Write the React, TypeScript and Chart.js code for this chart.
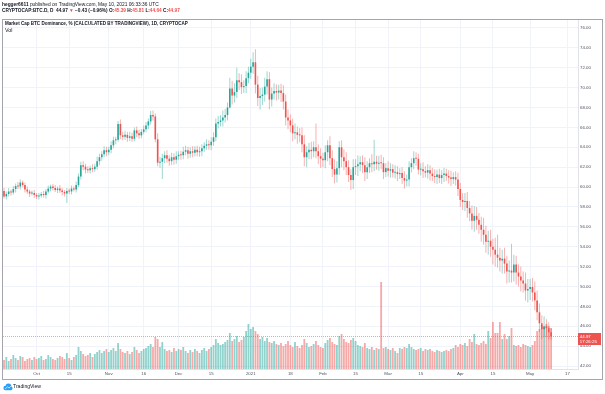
import React, { useEffect, useRef } from 'react';
import { Chart, registerables } from 'chart.js';

Chart.register(...registerables);

// ---- Data (daily candles, CRYPTOCAP:BTC.D, day 0 = 2020-09-17) ----
const startDate = '2020-09-17';
const firstOpen = 59.6;
const closes = [
  59.05, 59.30, 59.55, 59.45, 59.80, 60.10, 60.05, 60.45, 60.20, 59.75, 59.55, 59.35, 59.40, 59.20, 59.05,
  59.15, 59.30, 59.20, 59.55, 59.85, 60.05, 59.90, 59.70, 59.85, 59.65, 59.50, 59.35, 59.60, 59.55, 59.85, 59.75, 60.20,
  61.05, 62.20, 62.05, 61.75, 61.70, 61.90, 61.80, 62.05, 62.60, 63.00, 63.30, 63.70, 63.50, 63.75, 64.20, 64.70, 64.75,
  66.35, 65.20, 65.05, 65.25, 64.95, 65.10, 64.85, 65.70, 65.40, 65.20, 65.55, 65.80, 66.20, 66.60, 67.25, 67.10,
  64.80, 62.45, 62.55, 62.90, 63.20, 62.85, 62.60, 63.00, 62.75, 63.10, 63.25, 63.20, 63.55, 63.70, 63.35, 63.60, 63.45, 63.75, 63.50, 63.60, 63.90, 64.15, 64.30, 64.20, 64.55, 65.00,
  66.40, 66.55, 66.70, 67.00, 67.25, 68.00, 69.90, 69.20, 69.55, 70.75, 70.55, 70.05, 70.15, 70.95, 71.50, 72.10, 72.55, 70.30, 68.95, 69.15, 69.30, 70.10, 70.85, 68.80, 69.40, 69.65, 69.50, 69.70, 69.45, 68.60,
  67.00, 66.70, 66.20, 65.40, 65.50, 65.25, 65.20, 64.30, 63.00, 63.50, 63.75, 63.60, 64.00, 63.60, 63.10, 62.85, 62.70, 63.50, 64.20, 62.90, 61.80, 61.25, 61.90, 64.00, 63.00, 62.60, 62.00, 61.20, 60.70, 62.00, 62.10, 62.30, 62.50, 62.20, 61.50, 62.00, 62.40, 62.30, 62.55, 62.35, 62.45,
  62.40, 61.50, 61.90, 61.65, 61.80, 61.45, 61.50, 61.30, 61.40, 60.90, 60.65, 60.75, 62.00, 62.40, 62.90, 62.85, 61.75, 61.80, 61.60, 61.45, 61.70, 61.35, 61.10, 61.00, 61.25, 60.90, 61.20, 61.35, 61.10, 60.95, 60.80, 61.00, 60.75, 59.80,
  58.70, 58.50, 58.60, 57.90, 57.35, 56.60, 57.10, 56.70, 56.20, 55.70, 55.20, 54.50, 54.60, 54.00, 53.70, 53.20, 52.90, 52.60, 52.80, 52.30, 51.50, 51.60, 51.40, 52.20, 51.40, 51.00, 50.60, 50.30, 49.60, 49.75, 49.95, 49.40, 48.60, 47.40, 46.30, 45.70, 46.00, 45.80, 45.39, 44.97,
];
const upWick = [
  .3, .25, .35, .2, .3, .25, .4, .3, .2, .25, .3, .2, .25, .3, .2,
  .25, .2, .3, .25, .3, .2, .25, .3, .2, .35, .25, .2, .3, .25, .3, .2, .35,
  .3, .35, .4, .3, .35, .25, .4, .3, .45, .35, .3, .4, .35, .3, .4, .35, .3,
  .3, .45, .35, .4, .3, .45, .35, .3, .4, .35, .3, .4, .35, .3, .4, .45,
  .3, .6, .5, .45, .4, .5, .35, .45, .4, .5, .35, .4, .5, .45, .35, .4, .5, .35, .4, .45, .4, .35, .5, .4, .45, .5,
  .5, .6, .55, .7, .6, .5, 1.1, .8, .9, 1.25, .7, .8, .6, .7, .6, .8, 1.0, 1.3, .9, .8, .7, .9, .8, .7, .6, .8, .7, .6, .7, .8,
  .7, .8, .6, .7, .9, .6, .7, .8, .9, .6, .7, .8, .6, 2.4, .7, .8, .6, .7, .5, .9, .8, 1.0, .7, .6, .7, .8, .9, .7, .6, .8, .7, .9, .6, .7, .8, .6, .5, .9, 2.2, .6, .7,
  .8, .6, .5, .7, .6, .5, .7, .6, .5, .6, .7, .5, .6, .5, .7, .6, .5, .6, .7, .5, .6, .5, .6, .7, .5, .6, .5, .6, .5, .6, .7, .5, .6, .7,
  .6, .7, .8, .9, .7, .8, 1.0, .9, .7, .8, 1.2, .9, 1.0, 1.1, .8, 1.2, 2.0, 1.0, .9, 1.1, .8, 1.0, 2.7, 1.0, .9, .8, 1.0, .9, 1.1, 1.0, .8, .9, 1.1, 1.0, .9, .8, 1.0, .7, .6, .42,
];
const downWick = [
  .2, .3, .25, .3, .2, .35, .25, .3, .2, .3, .25, .35, .2, .3, .25,
  .3, .2, .25, .35, .2, .3, .25, .2, .3, .25, .35, .3, .95, .25, .3, .2, .3,
  .2, .3, .35, .4, .3, .35, .3, .25, .3, .4, .35, .3, .4, .3, .35, .3, .4,
  .2, .4, .35, .3, .4, .35, .3, .25, .4, .35, .3, .25, .3, .35, .3, .4,
  .3, .35, .5, 1.75, .5, .4, .45, .35, .5, .4, .35, .45, .4, .35, .5, .4, .45, .35, .4, .45, .5, .35, .4, .45, .5, .4,
  .4, .5, .45, .6, .5, .55, .1, .9, .7, .6, .8, .7, .6, .7, .5, .6, .7, .9, .8, 1.15, .9, .7, .8, 1.0, .7, .6, .8, .7, .9, .8,
  .8, .9, .7, .8, .6, .9, .7, .8, .9, 1.0, .7, .8, .6, .7, .8, .9, .7, .8, .9, .7, .8, .9, .8, .7, 1.0, .9, .8, .7, 1.0, .9, .8, 1.0, .7, .8, .9, .7, .6, .8, .7, .6, .7,
  .6, .7, .5, .6, .7, .5, .6, .7, .5, .6, .8, .6, .7, .5, .6, .7, .5, .6, .7, .5, .6, .7, .5, .6, .7, .5, .6, .7, .5, .6, .7, .5, .6, .7,
  .7, .8, .9, 1.0, .8, .9, 1.1, 1.0, .9, 1.2, 1.0, 1.1, 1.3, 1.0, 1.5, 1.2, 1.0, 1.1, 1.3, 1.0, 1.2, 1.1, 1.0, .9, 1.2, 1.0, 1.1, .9, 1.0, 1.2, 1.1, .9, 1.0, .8, .9, 1.0, .8, .9, .7, .33,
];
const volumes = [
  9, 12, 8, 10, 14, 11, 9, 13, 12, 8, 10, 11, 9, 12, 10,
  11, 13, 9, 10, 14, 12, 10, 9, 11, 13, 12, 10, 16, 11, 9, 12, 14,
  22, 18, 15, 13, 14, 16, 12, 15, 17, 19, 16, 18, 20, 17, 19, 21, 18,
  26, 20, 17, 16, 18, 15, 17, 22, 19, 16, 18, 20, 21, 23, 25, 22,
  32, 30, 22, 27, 20, 18, 19, 17, 21, 18, 20, 19, 22, 18, 16, 19, 17, 20, 18, 16, 19, 21, 18, 20, 22, 24,
  30, 26, 24, 25, 27, 29, 36, 28, 30, 33, 27, 29, 32, 38, 45, 40, 42, 38, 35, 30, 32, 28, 31, 27, 26, 28, 25, 24, 26, 23,
  25, 28, 24, 22, 27, 23, 21, 24, 30, 26, 22, 23, 25, 28, 24, 22, 21, 26, 29, 31, 27, 25, 24, 33, 35, 30, 27, 26, 29, 31, 28, 24, 23, 22, 26, 21, 20, 22, 19, 21, 20,
  87,
  21, 22, 20, 19, 21, 18, 16, 21, 20, 22, 21, 25, 22, 20, 19, 20, 21, 18, 20, 19, 20, 18, 17, 19, 18, 17, 18, 19, 18, 20, 21, 24, 22,
  25, 24, 26, 23, 30, 27, 35, 25, 24, 26, 28, 25, 38, 31, 47, 36, 36, 47, 30, 35, 30, 33, 41, 24, 23, 24, 22, 25, 24, 23, 22, 24, 28, 38, 40, 44, 42, 45, 43, 41,
];
const tickDays = [14, 28, 45, 60, 75, 89, 106, 123, 137, 151, 165, 179, 196, 210, 226, 242];
const tickLabels = ['Oct', '15', 'Nov', '16', 'Dec', '15', '2021', '18', 'Feb', '15', 'Mar', '15', 'Apr', '15', 'May', '17'];
const priceTicks = [42, 44, 46, 48, 50, 52, 54, 56, 58, 60, 62, 64, 66, 68, 70, 72, 74, 76];
const countdown = '17:26:25';

const UP = '#26a69a';
const DOWN = '#ef5350';
const FONT = '"Liberation Sans", Arial, sans-serif';

type Seg = { t: string; c: string; b?: boolean };

function drawFit(ctx: CanvasRenderingContext2D, segs: Seg[], x: number, y: number, targetW: number) {
  const base = 10;
  let w = 0;
  for (const s of segs) {
    ctx.font = `${s.b ? 'bold ' : ''}${base}px ${FONT}`;
    w += ctx.measureText(s.t).width;
  }
  const size = (base * targetW) / w;
  let cx = x;
  ctx.textBaseline = 'middle';
  ctx.textAlign = 'left';
  for (const s of segs) {
    ctx.font = `${s.b ? 'bold ' : ''}${size}px ${FONT}`;
    ctx.fillStyle = s.c;
    ctx.fillText(s.t, cx, y);
    cx += ctx.measureText(s.t).width;
  }
}

const overlayPlugin = {
  id: 'overlay',
  afterDraw(chart: any) {
    const ctx: CanvasRenderingContext2D = chart.ctx;
    const { left, right } = chart.chartArea;
    const ys = chart.scales.y;
    ctx.save();
    // last price line
    const last = closes[closes.length - 1];
    const py = Math.round(ys.getPixelForValue(last)) + 0.5;
    ctx.strokeStyle = 'rgba(239,83,80,0.55)';
    ctx.lineWidth = 1;
    ctx.setLineDash([1, 1]);
    ctx.beginPath();
    ctx.moveTo(left, py);
    ctx.lineTo(right, py);
    ctx.stroke();
    ctx.setLineDash([]);
    // price label box
    ctx.fillStyle = DOWN;
    ctx.fillRect(right, py - 3.5, 23, 12);
    ctx.fillStyle = '#ffffff';
    ctx.textBaseline = 'middle';
    ctx.textAlign = 'left';
    ctx.font = `4.4px ${FONT}`;
    ctx.fillText(last.toFixed(2), right + 1.8, py);
    ctx.fillText(countdown, right + 1.8, py + 5.6);
    // outer frame
    ctx.strokeStyle = '#a3a6ae';
    ctx.strokeRect(2.5, 19.5, 600, 360);
    // header lines
    drawFit(ctx, [
      { t: 'hegger6611', c: '#131722', b: true },
      { t: ' published on TradingView.com, May 10, 2021 06:33:36 UTC', c: '#131722' },
    ], 2, 4.8, 157);
    drawFit(ctx, [
      { t: 'CRYPTOCAP:BTC.D, D  ', c: '#131722', b: true },
      { t: '44.97 ', c: '#131722', b: true },
      { t: '▼ ', c: DOWN, b: true },
      { t: '−0.43 (−0.96%) ', c: '#131722', b: true },
      { t: 'O:', c: '#131722', b: true },
      { t: '45.39 ', c: DOWN, b: true },
      { t: 'H:', c: '#131722', b: true },
      { t: '45.81 ', c: DOWN, b: true },
      { t: 'L:', c: '#131722', b: true },
      { t: '44.64 ', c: DOWN, b: true },
      { t: 'C:', c: '#131722', b: true },
      { t: '44.97', c: DOWN, b: true },
    ], 2, 10.8, 178);
    drawFit(ctx, [
      { t: 'Market Cap BTC Dominance, % (CALCULATED BY TRADINGVIEW), 1D, CRYPTOCAP', c: '#131722', b: true },
    ], 5, 24, 183);
    drawFit(ctx, [{ t: 'Vol', c: '#131722' }], 5, 30.5, 7.5);
    // footer logo
    ctx.fillStyle = '#2e9ef4';
    ctx.beginPath();
    ctx.arc(5.6, 388, 2.2, 0, Math.PI * 2);
    ctx.arc(8.4, 386.3, 2.9, 0, Math.PI * 2);
    ctx.arc(10.6, 388.2, 2.0, 0, Math.PI * 2);
    ctx.fill();
    ctx.fillRect(5.6, 388, 5, 2.2);
    ctx.strokeStyle = '#ffffff';
    ctx.lineWidth = 0.7;
    ctx.beginPath();
    ctx.moveTo(5, 389);
    ctx.lineTo(7.5, 386.8);
    ctx.lineTo(9, 388);
    ctx.lineTo(11.5, 385.8);
    ctx.stroke();
    drawFit(ctx, [{ t: 'TradingView', c: '#131722' }], 13, 387, 28);
    ctx.restore();
  },
};

export default function App() {
  const ref = useRef<HTMLCanvasElement>(null);
  useEffect(() => {
    if (!ref.current) return;
    const opens = closes.map((c, i) => (i === 0 ? firstOpen : closes[i - 1]));
    const isUp = closes.map((c, i) => c >= opens[i]);
    const highs = closes.map((c, i) => Math.max(c, opens[i]) + upWick[i]);
    const lows = closes.map((c, i) => Math.min(c, opens[i]) - downWick[i]);

    const bodyData = closes.map((c, i) => ({ x: i, y: [opens[i], c] }));
    const wickData = closes.map((c, i) => ({ x: i, y: [lows[i], highs[i]] }));
    const volData = volumes.map((v, i) => ({ x: i, y: v }));

    const common = { borderWidth: 0, inflateAmount: 0, grouped: false };

    const chart = new Chart(ref.current, {
      type: 'bar',
      data: {
        datasets: [
          {
            ...common,
            label: 'Vol',
            data: volData as any,
            yAxisID: 'yv',
            backgroundColor: isUp.map((u) => (u ? 'rgba(38,166,154,0.5)' : 'rgba(239,83,80,0.5)')),
            barThickness: 1.8,
            order: 3,
          },
          {
            ...common,
            label: 'wick',
            data: wickData as any,
            yAxisID: 'y',
            backgroundColor: isUp.map((u) => (u ? 'rgba(38,166,154,0.45)' : 'rgba(239,83,80,0.45)')),
            barThickness: 1,
            order: 2,
          },
          {
            ...common,
            label: 'BTC.D',
            data: bodyData as any,
            yAxisID: 'y',
            backgroundColor: isUp.map((u) => (u ? UP : DOWN)),
            barThickness: 1.6,
            minBarLength: 1,
            order: 1,
          },
        ],
      },
      options: {
        animation: false,
        responsive: false,
        maintainAspectRatio: false,
        layout: { padding: { left: 3, right: 2, top: 20, bottom: 15 } },
        plugins: { legend: { display: false }, tooltip: { enabled: false } },
        scales: {
          x: {
            type: 'linear',
            offset: false,
            min: -0.43,
            max: 246.56,
            afterBuildTicks: (s: any) => {
              s.ticks = tickDays.map((v) => ({ value: v }));
            },
            afterFit: (s: any) => {
              s.height = 10;
            },
            ticks: {
              autoSkip: false,
              maxRotation: 0,
              padding: 2,
              color: '#50535e',
              font: { size: 4.4, family: FONT },
              callback: (v: any) => {
                const k = tickDays.indexOf(Number(v));
                return k >= 0 ? tickLabels[k] : '';
              },
            },
            grid: { color: '#f0f3fa', drawTicks: false, offset: false },
            border: { color: '#e0e3eb' },
          },
          y: {
            type: 'linear',
            position: 'right',
            min: 41.7,
            max: 76.8,
            afterBuildTicks: (s: any) => {
              s.ticks = priceTicks.map((v) => ({ value: v }));
            },
            afterFit: (s: any) => {
              s.width = 25;
            },
            ticks: {
              padding: 2,
              color: '#50535e',
              font: { size: 4.4, family: FONT },
              callback: (v: any) => Number(v).toFixed(2),
            },
            grid: { color: '#f0f3fa', drawTicks: false },
            border: { color: '#e0e3eb' },
          },
          yv: {
            type: 'linear',
            display: false,
            min: 0,
            max: 349,
          },
        },
      },
      plugins: [overlayPlugin],
    } as any);
    return () => chart.destroy();
  }, []);

  return (
    <div style={{ position: 'fixed', left: 0, top: 0, width: 605, height: 394, background: '#ffffff' }}>
      <canvas ref={ref} width={605} height={394} style={{ display: 'block', width: 605, height: 394 }} data-start={startDate} />
    </div>
  );
}
